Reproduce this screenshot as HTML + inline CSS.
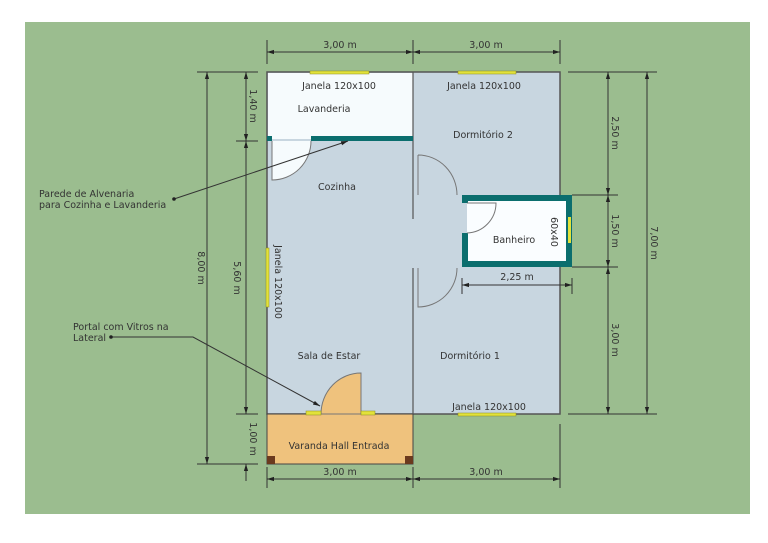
<!DOCTYPE html>
<html><head><meta charset="utf-8"><style>
html,body{margin:0;padding:0;background:#fff}
svg{display:block}
text{font-family:"DejaVu Sans","Liberation Sans",sans-serif;font-size:9.5px;fill:#333}
</style></head><body>
<svg width="768" height="543" viewBox="0 0 768 543" xmlns="http://www.w3.org/2000/svg">
<defs>
<marker id="a" viewBox="0 0 10 10" refX="10" refY="5" markerWidth="7" markerHeight="7" orient="auto-start-reverse"><path d="M0,2 L10,5 L0,8 z" fill="#222"/></marker>
</defs>
<rect x="25" y="22" width="725" height="492" fill="#9bbd8f"/>
<!-- rooms -->
<rect x="267" y="72" width="293" height="342" fill="#c8d6e0" stroke="#555" stroke-width="1.5"/>
<rect x="268" y="73" width="145" height="66" fill="#f6fbfd"/>
<rect x="267" y="414" width="146" height="50" fill="#efc27d" stroke="#444" stroke-width="1"/>
<!-- interior wall -->
<line x1="413" y1="72" x2="413" y2="219" stroke="#555" stroke-width="1.2"/>
<line x1="413" y1="268" x2="413" y2="414" stroke="#555" stroke-width="1.2"/>
<!-- teal wall -->
<rect x="267" y="136" width="5" height="5" fill="#0b6e6e"/>
<rect x="311" y="136" width="102" height="5" fill="#0b6e6e"/>
<!-- bathroom -->
<rect x="462" y="195" width="110" height="72" fill="#0b6e6e"/>
<rect x="468" y="201" width="98" height="60" fill="#fafdff"/>
<rect x="462" y="203" width="6" height="30" fill="#c8d6e0"/>
<rect x="568" y="217" width="3" height="26" fill="#e2e23a"/>
<!-- doors -->
<path d="M272,141 L272,180 A39,39 0 0 0 311,141" fill="#f6fbfd" stroke="#777" stroke-width="1"/>
<path d="M418,155 L418,195 M418,155 A39,40 0 0 1 457,195" fill="none" stroke="#777" stroke-width="1"/>
<path d="M418,268 L418,307 A39,39 0 0 0 457,268" fill="none" stroke="#777" stroke-width="1"/>
<path d="M467,203 L496,203 A30,30 0 0 1 467,233" fill="#fafdff" stroke="#777" stroke-width="1"/>
<path d="M321,414 A40,41 0 0 1 361,373 L361,414 Z" fill="#efc27d" stroke="#777" stroke-width="1"/>
<!-- windows -->
<rect x="310" y="71" width="59" height="3" fill="#e2e23a" stroke="#8a8a20" stroke-width=".5"/>
<rect x="458" y="71" width="58" height="3" fill="#e2e23a" stroke="#8a8a20" stroke-width=".5"/>
<rect x="266" y="248" width="3" height="59" fill="#e2e23a" stroke="#8a8a20" stroke-width=".5"/>
<rect x="458" y="413" width="58" height="3" fill="#e2e23a" stroke="#8a8a20" stroke-width=".5"/>
<rect x="306" y="411" width="15" height="4" fill="#e2e23a" stroke="#8a8a20" stroke-width=".5"/>
<rect x="361" y="411" width="14" height="4" fill="#e2e23a" stroke="#8a8a20" stroke-width=".5"/>
<rect x="267" y="456" width="8" height="8" fill="#6b3a1e"/>
<rect x="405" y="456" width="8" height="8" fill="#6b3a1e"/>
<!-- dimension lines -->
<g stroke="#333" stroke-width="1" fill="none">
<line x1="267" y1="40" x2="267" y2="64"/><line x1="413" y1="40" x2="413" y2="64"/><line x1="560" y1="40" x2="560" y2="64"/>
<line x1="267" y1="52" x2="413" y2="52" marker-start="url(#a)" marker-end="url(#a)"/>
<line x1="413" y1="52" x2="560" y2="52" marker-start="url(#a)" marker-end="url(#a)"/>
<line x1="267" y1="467" x2="267" y2="488"/><line x1="413" y1="467" x2="413" y2="488"/><line x1="560" y1="424" x2="560" y2="488"/>
<line x1="267" y1="479" x2="413" y2="479" marker-start="url(#a)" marker-end="url(#a)"/>
<line x1="413" y1="479" x2="560" y2="479" marker-start="url(#a)" marker-end="url(#a)"/>
<line x1="197" y1="72" x2="258" y2="72"/><line x1="236" y1="141" x2="258" y2="141"/><line x1="236" y1="414" x2="258" y2="414"/><line x1="197" y1="464" x2="258" y2="464"/>
<line x1="207" y1="72" x2="207" y2="464" marker-start="url(#a)" marker-end="url(#a)"/>
<line x1="246" y1="72" x2="246" y2="141" marker-start="url(#a)" marker-end="url(#a)"/>
<line x1="246" y1="141" x2="246" y2="414" marker-start="url(#a)" marker-end="url(#a)"/>
<line x1="246" y1="464" x2="246" y2="481" marker-start="url(#a)"/>
<line x1="568" y1="72" x2="657" y2="72"/><line x1="572" y1="195" x2="618" y2="195"/><line x1="572" y1="267" x2="618" y2="267"/><line x1="568" y1="414" x2="657" y2="414"/>
<line x1="608" y1="72" x2="608" y2="195" marker-start="url(#a)" marker-end="url(#a)"/>
<line x1="608" y1="195" x2="608" y2="267" marker-start="url(#a)" marker-end="url(#a)"/>
<line x1="608" y1="267" x2="608" y2="414" marker-start="url(#a)" marker-end="url(#a)"/>
<line x1="647" y1="72" x2="647" y2="414" marker-start="url(#a)" marker-end="url(#a)"/>
<line x1="462" y1="278" x2="462" y2="294"/><line x1="572" y1="278" x2="572" y2="294"/>
<line x1="462" y1="285" x2="572" y2="285" marker-start="url(#a)" marker-end="url(#a)"/>
<!-- leaders -->
<line x1="174" y1="199" x2="348" y2="141" marker-end="url(#a)"/>
<polyline points="111,337 193,337 320,406" marker-end="url(#a)"/>
</g>
<circle cx="174" cy="199" r="1.8" fill="#222"/>
<circle cx="111" cy="337" r="1.8" fill="#222"/>
<!-- labels -->
<text x="340" y="48" text-anchor="middle">3,00 m</text>
<text x="486" y="48" text-anchor="middle">3,00 m</text>
<text x="340" y="475" text-anchor="middle">3,00 m</text>
<text x="486" y="475" text-anchor="middle">3,00 m</text>
<text x="517" y="280" text-anchor="middle">2,25 m</text>
<text x="339" y="89" text-anchor="middle">Janela 120x100</text>
<text x="484" y="89" text-anchor="middle">Janela 120x100</text>
<text x="489" y="410" text-anchor="middle">Janela 120x100</text>
<text x="324" y="112" text-anchor="middle">Lavanderia</text>
<text x="483" y="138" text-anchor="middle">Dormitório 2</text>
<text x="337" y="190" text-anchor="middle">Cozinha</text>
<text x="514" y="243" text-anchor="middle">Banheiro</text>
<text x="329" y="359" text-anchor="middle">Sala de Estar</text>
<text x="470" y="359" text-anchor="middle">Dormitório 1</text>
<text x="339" y="449" text-anchor="middle">Varanda Hall Entrada</text>
<text x="39" y="197">Parede de Alvenaria</text>
<text x="39" y="208">para Cozinha e Lavanderia</text>
<text x="73" y="330">Portal com  Vitros na</text>
<text x="73" y="341">Lateral</text>
<g text-anchor="middle">
<text transform="translate(250,106) rotate(90)">1,40 m</text>
<text transform="translate(234,278) rotate(90)">5,60 m</text>
<text transform="translate(250,439) rotate(90)">1,00 m</text>
<text transform="translate(198,268) rotate(90)">8,00 m</text>
<text transform="translate(275,282) rotate(90)">Janela 120x100</text>
<text transform="translate(612,133) rotate(90)">2,50 m</text>
<text transform="translate(612,231) rotate(90)">1,50 m</text>
<text transform="translate(612,340) rotate(90)">3,00 m</text>
<text transform="translate(651,243) rotate(90)">7,00 m</text>
<text transform="translate(551,232) rotate(90)">60x40</text>
</g>
</svg>
</body></html>
